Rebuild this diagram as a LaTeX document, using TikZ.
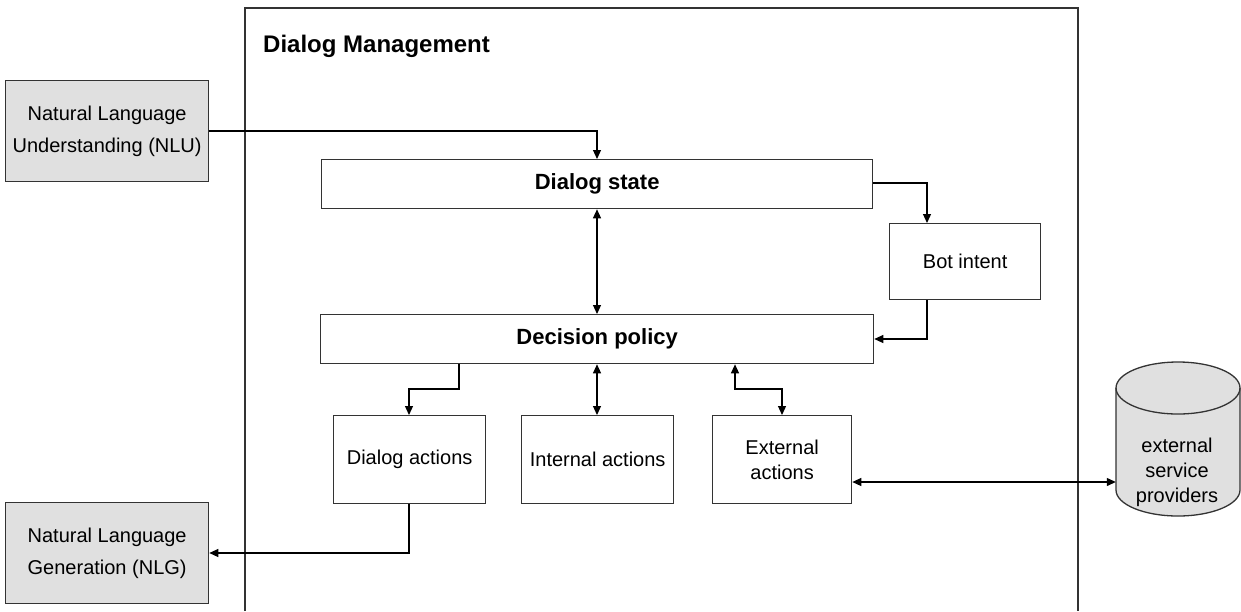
\documentclass[tikz,border=0pt]{standalone}
\usepackage{fontspec}
\setmainfont{Liberation Sans}
\usetikzlibrary{arrows.meta}
\definecolor{boxline}{HTML}{333333}
\definecolor{boxfill}{HTML}{E0E0E0}
\tikzset{
  box/.style={draw=boxline, line width=1.3pt, fill=white, inner sep=0pt, anchor=north west,
    font=\fontsize{20}{25}\selectfont, align=center},
  greybox/.style={box, fill=boxfill, font=\fontsize{20}{32}\selectfont},
  boldbox/.style={box, font=\fontsize{22}{26}\selectfont\bfseries},
  conn/.style={draw=black, line width=1.2pt, -{Triangle[length=9pt,width=8pt]}},
  conn2/.style={draw=black, line width=1.2pt, {Triangle[length=9pt,width=8pt]}-{Triangle[length=9pt,width=8pt]}},
  plain/.style={draw=black, line width=1.2pt},
}
\begin{document}
\begin{tikzpicture}[x=1pt,y=-1pt]
\useasboundingbox (0,0) rectangle (1241,611);
% Dialog Management frame (open at the bottom)
\draw[boxline, line width=1.3pt] (245,611) -- (245,8) -- (1078,8) -- (1078,611);
\node[anchor=west, inner sep=0pt, font=\fontsize{24}{28}\selectfont\bfseries] (title) at (263,46) {Dialog Management};

% Nodes
\node[greybox, minimum width=203, minimum height=101] (nlu) at (5,80) {Natural Language\\Understanding (NLU)};
\node[greybox, minimum width=203, minimum height=101] (nlg) at (5,502) {Natural Language\\Generation (NLG)};
\node[boldbox, minimum width=551, minimum height=49] (ds) at (321,159) {Dialog state};
\node[box, minimum width=151, minimum height=76] (bi) at (889,223) {Bot intent};
\node[boldbox, minimum width=553, minimum height=49] (dp) at (320,314) {Decision policy};
\node[box, minimum width=152, minimum height=88] (da) at (333,415) {Dialog actions};
\node[box, minimum width=152, minimum height=88] (ia) at (521,415) {Internal actions};
\node[box, minimum width=139, minimum height=88] (xa) at (712,415) {External\\actions};

% Cylinder
\path[fill=boxfill, draw=boxline, line width=1.3pt]
  (1116,388) -- (1116,490) arc[start angle=180, end angle=0, x radius=62, y radius=26]
  -- (1240,388) arc[start angle=0, end angle=-180, x radius=62, y radius=26] -- cycle;
\draw[boxline, line width=1.3pt] (1116,388) arc[start angle=180, end angle=0, x radius=62, y radius=26];
\node[inner sep=0pt, minimum width=124, minimum height=154] (cyl) at (1178,439) {};
\node[inner sep=0pt, align=center, font=\fontsize{20}{25}\selectfont] (cyltext) at (1177,472) {external\\service\\providers};

% Connectors
\draw[conn] (nlu.east |- 0,131) -| (ds.north -| 597,0);
\draw[conn2] (ds.south -| 597,0) -- (dp.north -| 597,0);
\draw[conn] (ds.east |- 0,183) -| (bi.north -| 927,0);
\draw[conn] (bi.south -| 927,0) |- (dp.east |- 0,339);
\draw[conn] (dp.south -| 459,0) -- (459,389) -| (da.north -| 409,0);
\draw[conn2] (dp.south -| 597,0) -- (ia.north -| 597,0);
\draw[conn2] (dp.south -| 735,0) -- (735,389) -| (xa.north -| 782,0);
\draw[conn2] (xa.east |- 0,482) -- (cyl.west |- 0,482);
\draw[conn] (da.south -| 409,0) |- (nlg.east |- 0,553);
\end{tikzpicture}
\end{document}
